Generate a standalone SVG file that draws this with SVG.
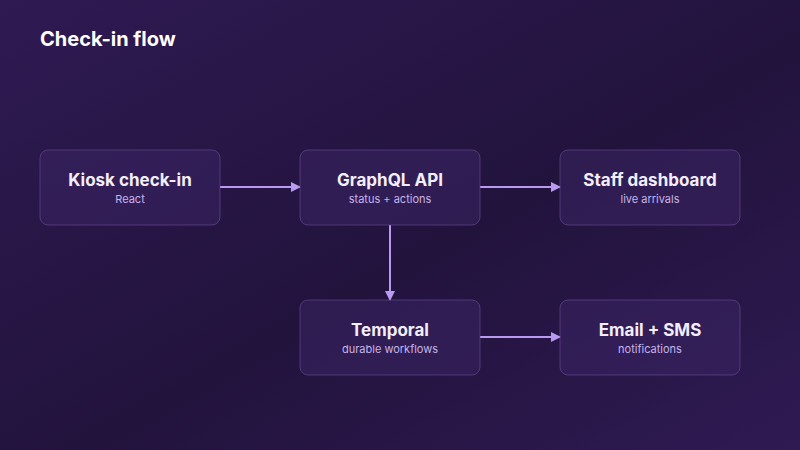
<svg xmlns="http://www.w3.org/2000/svg" width="800" height="450" viewBox="0 0 800 450">
<defs>
<linearGradient id="bg" x1="0" y1="0" x2="1" y2="1">
<stop offset="0" stop-color="#2f1a52"/><stop offset="0.55" stop-color="#22133d"/><stop offset="1" stop-color="#2f1a52"/>
</linearGradient>
<marker id="ah" markerWidth="10" markerHeight="10" refX="9" refY="5" orient="auto" markerUnits="userSpaceOnUse"><path d="M0,0 L10,5 L0,10 z" fill="#b99af0"/></marker>
<style>
.box{fill:#3a2462;fill-opacity:0.55;stroke:#6a4f96;stroke-opacity:0.6;stroke-width:1}
.t{font-family:Inter,"Liberation Sans",sans-serif;font-weight:700;font-size:17px;fill:#f4eefc;text-anchor:middle}
.s{font-family:Inter,"Liberation Sans",sans-serif;font-size:11px;fill:#c7b4ea;text-anchor:middle}
.c{stroke:#b99af0;stroke-width:2;fill:none;marker-end:url(#ah)}
</style>
</defs>
<rect width="800" height="450" fill="url(#bg)"/>
<text x="40" y="46" font-family="Inter,'Liberation Sans',sans-serif" font-weight="700" font-size="20" fill="#ffffff">Check-in flow</text>
<g id="connectors">
<path class="c" d="M220,187 L300,187"/>
<path class="c" d="M480,187 L560,187"/>
<path class="c" d="M390,225 L390,300"/>
<path class="c" d="M480,337 L560,337"/>
</g>
<g id="kiosk"><rect class="box" x="40" y="150" width="180" height="75" rx="8"/><text class="t" x="130" y="186">Kiosk check-in</text><text class="s" x="130" y="203">React</text></g>
<g id="graphql"><rect class="box" x="300" y="150" width="180" height="75" rx="8"/><text class="t" x="390" y="186">GraphQL API</text><text class="s" x="390" y="203">status + actions</text></g>
<g id="staff"><rect class="box" x="560" y="150" width="180" height="75" rx="8"/><text class="t" x="650" y="186">Staff dashboard</text><text class="s" x="650" y="203">live arrivals</text></g>
<g id="temporal"><rect class="box" x="300" y="300" width="180" height="75" rx="8"/><text class="t" x="390" y="336">Temporal</text><text class="s" x="390" y="353">durable workflows</text></g>
<g id="email"><rect class="box" x="560" y="300" width="180" height="75" rx="8"/><text class="t" x="650" y="336">Email + SMS</text><text class="s" x="650" y="353">notifications</text></g>
</svg>
